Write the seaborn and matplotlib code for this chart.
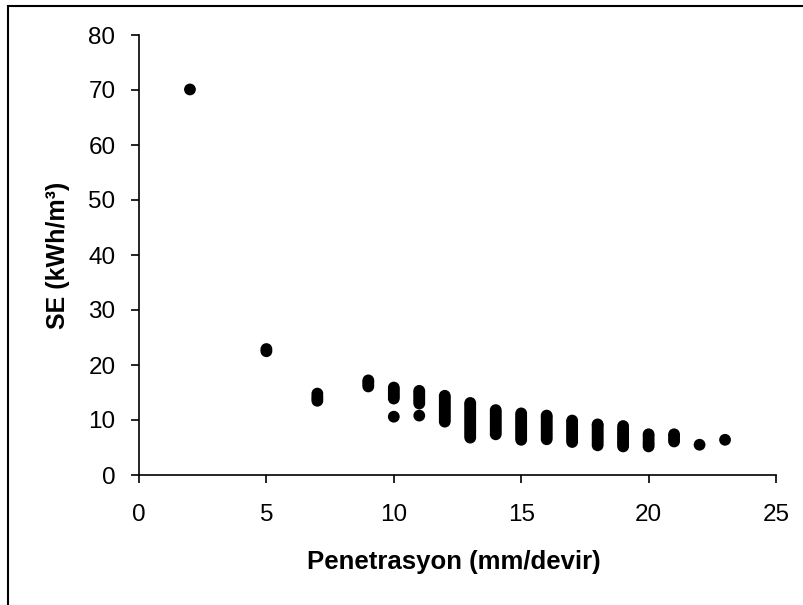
import matplotlib
matplotlib.use("Agg")
import matplotlib.pyplot as plt
import seaborn as sns
import pandas as pd
from matplotlib.patches import Rectangle

# Data (penetration in mm/rev, specific energy in kWh/m3)
pen_2 = [2]
se_2 = [70.1]
pen_5 = [5, 5]
se_5 = [22.5, 22.9]
pen_7 = [7, 7, 7, 7]
se_7 = [13.5, 13.9, 14.3, 14.8]
pen_9 = [9, 9, 9, 9]
se_9 = [16.1, 16.5, 16.9, 17.2]
pen_10 = [10] * 7
se_10 = [10.6, 13.9, 14.3, 14.7, 15.1, 15.5, 15.9]
pen_11 = [11] * 8
se_11 = [10.8, 13.0, 13.4, 13.8, 14.2, 14.6, 15.0, 15.3]
pen_12 = [12] * 13
se_12 = [9.7, 10.1, 10.5, 10.9, 11.3, 11.7, 12.1, 12.5, 12.9, 13.3, 13.7, 14.1, 14.4]
pen_13 = [13] * 17
se_13 = [6.8, 7.2, 7.6, 8.0, 8.4, 8.8, 9.2, 9.6, 10.0, 10.4, 10.8, 11.2, 11.6, 12.0, 12.4, 12.8, 13.1]
pen_14 = [14] * 12
se_14 = [7.4, 7.8, 8.2, 8.6, 9.0, 9.4, 9.8, 10.2, 10.6, 11.0, 11.4, 11.8]
pen_15 = [15] * 13
se_15 = [6.4, 6.8, 7.2, 7.6, 8.0, 8.4, 8.8, 9.2, 9.6, 10.0, 10.4, 10.8, 11.2]
pen_16 = [16] * 12
se_16 = [6.5, 6.9, 7.3, 7.7, 8.1, 8.5, 8.9, 9.3, 9.7, 10.1, 10.5, 10.8]
pen_17 = [17] * 11
se_17 = [6.0, 6.4, 6.8, 7.2, 7.6, 8.0, 8.4, 8.8, 9.2, 9.6, 9.9]
pen_18 = [18] * 11
se_18 = [5.4, 5.8, 6.2, 6.6, 7.0, 7.4, 7.8, 8.2, 8.6, 9.0, 9.2]
pen_19 = [19] * 10
se_19 = [5.2, 5.6, 6.0, 6.4, 6.8, 7.2, 7.6, 8.0, 8.4, 8.9]
pen_20 = [20] * 6
se_20 = [5.2, 5.6, 6.0, 6.5, 7.0, 7.4]
pen_21 = [21] * 4
se_21 = [6.1, 6.5, 7.0, 7.4]
pen_22 = [22]
se_22 = [5.5]
pen_23 = [23]
se_23 = [6.4]

x_ticks = [0, 5, 10, 15, 20, 25]
y_ticks = [0, 10, 20, 30, 40, 50, 60, 70, 80]
x_label = "Penetrasyon (mm/devir)"
y_label = "SE (kWh/m³)"

pen = (pen_2 + pen_5 + pen_7 + pen_9 + pen_10 + pen_11 + pen_12 + pen_13 + pen_14
       + pen_15 + pen_16 + pen_17 + pen_18 + pen_19 + pen_20 + pen_21 + pen_22 + pen_23)
se = (se_2 + se_5 + se_7 + se_9 + se_10 + se_11 + se_12 + se_13 + se_14
      + se_15 + se_16 + se_17 + se_18 + se_19 + se_20 + se_21 + se_22 + se_23)
df = pd.DataFrame({"pen": pen, "se": se})

sns.set_style("white")
plt.rcParams["font.family"] = ["Liberation Sans", "DejaVu Sans"]
plt.rcParams["text.color"] = "black"
plt.rcParams["axes.labelcolor"] = "black"

fig = plt.figure(figsize=(8.04, 6.05), dpi=100)
ax = fig.add_axes([139 / 804, 1 - 475 / 605, (776 - 139) / 804, (475 - 35) / 605])

sns.scatterplot(data=df, x="pen", y="se", ax=ax, color="black", s=72,
                edgecolor="none", linewidth=0, legend=False)

ax.set_xlim(0, 25)
ax.set_ylim(0, 80)
ax.set_xticks(x_ticks)
ax.set_yticks(y_ticks)
ax.tick_params(axis="both", direction="out", length=6, width=1.2, color="black",
               labelsize=17.5, labelcolor="black", bottom=True, left=True)
ax.tick_params(axis="x", pad=15)
ax.tick_params(axis="y", pad=11)
for side in ["top", "right"]:
    ax.spines[side].set_visible(False)
for side in ["left", "bottom"]:
    ax.spines[side].set_color("black")
    ax.spines[side].set_linewidth(1.2)

ax.set_xlabel(x_label, fontsize=18.5, fontweight="bold", color="black")
ax.set_ylabel(y_label, fontsize=18, fontweight="bold", color="black")
ax.xaxis.set_label_coords((454 - 139) / 637, -(550 - 475) / 440)
ax.yaxis.set_label_coords(-(139 - 70) / 637, 0.5)

fig.patches.append(Rectangle((8 / 804, -0.02), 1.05, 1 - 6 / 605 + 0.02,
                             transform=fig.transFigure, fill=False,
                             edgecolor="black", linewidth=1.5))

fig.savefig("out.png", dpi=100)
